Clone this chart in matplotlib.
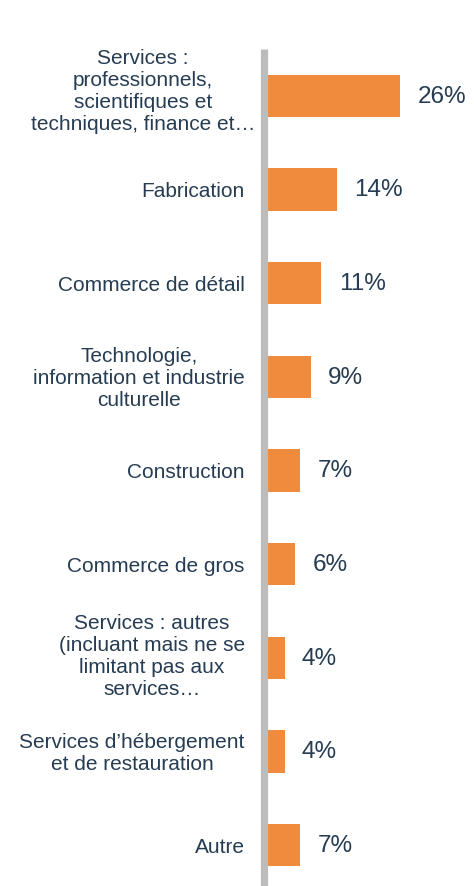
import matplotlib
matplotlib.use("Agg")
import matplotlib.pyplot as plt

plt.rcParams['font.family'] = ['Liberation Sans', 'DejaVu Sans']

categories = [
    "Services :\nprofessionnels,\nscientifiques et\ntechniques, finance et…",
    "Fabrication",
    "Commerce de détail",
    "Technologie,\ninformation et industrie\nculturelle",
    "Construction",
    "Commerce de gros",
    "Services : autres\n(incluant mais ne se\nlimitant pas aux\nservices…",
    "Services d’hébergement\net de restauration",
    "Autre",
]
shares = [26, 14, 11, 9, 7, 6, 4, 4, 7]
value_labels = [f"{v}%" for v in shares]

BAR_COLOR = "#F08A3C"
TEXT_COLOR = "#263C52"
AXIS_COLOR = "#BEBCBA"

W, H = 474, 887
fig = plt.figure(figsize=(W / 100, H / 100), dpi=100)
left_px, top_px, bottom_px = 263.5, 50, 893
ax = fig.add_axes([left_px / W, 1 - bottom_px / H, (W - left_px) / W, (bottom_px - top_px) / H])

y = list(range(len(categories)))
ax.barh(y, shares, height=0.45, color=BAR_COLOR, zorder=2)
ax.set_xlim(0, 40)
ax.set_ylim(len(categories) - 0.5, -0.5)

for yi, v, lab in zip(y, shares, value_labels):
    ax.annotate(lab, xy=(v, yi), xytext=(12.5, 0), textcoords="offset points",
                ha="left", va="center", fontsize=17.5, color=TEXT_COLOR)

# four-line labels sit a little high; the truncated one spills toward the axis
label_shift_pt = {0: (7.5, 3.5), 6: (0, 2.0)}
for yi, cat in zip(y, categories):
    sx, sy = label_shift_pt.get(yi, (0, -0.7))
    ax.annotate(cat, xy=(0, yi), xytext=(-13.5 + sx, sy), textcoords="offset points",
                ha="right", va="center", ma="center", fontsize=15,
                color=TEXT_COLOR, linespacing=1.2, annotation_clip=False)

for side in ("top", "right", "bottom"):
    ax.spines[side].set_visible(False)
ax.spines["left"].set_color(AXIS_COLOR)
ax.spines["left"].set_linewidth(5.2)
ax.spines["left"].set_capstyle("butt")
ax.spines["left"].set_zorder(3)
ax.set_xticks([])
ax.set_yticks([])
ax.patch.set_visible(False)

fig.savefig("out.png", dpi=100)
